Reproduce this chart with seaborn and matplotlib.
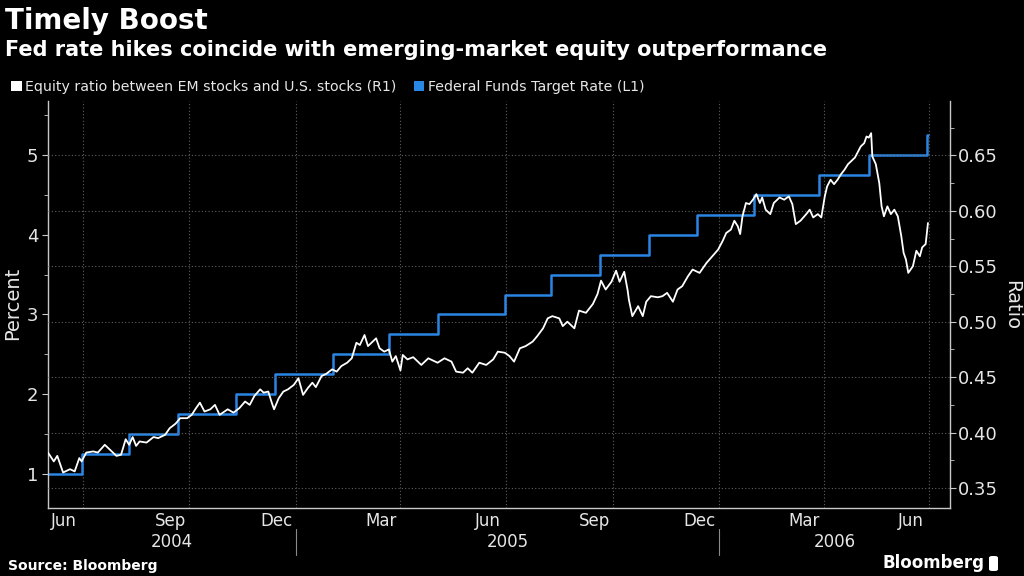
import pandas as pd
import matplotlib
matplotlib.use("Agg")
import matplotlib.pyplot as plt
import matplotlib.dates as mdates
from matplotlib.patches import Patch, FancyBboxPatch
from matplotlib.ticker import MultipleLocator, NullFormatter, FormatStrFormatter
import seaborn as sns

# EM / U.S. equity ratio (right axis)
ratio_dates = [
    "2004-06-01", "2004-06-06", "2004-06-09", "2004-06-14", "2004-06-20", "2004-06-24",
    "2004-06-28", "2004-06-30", "2004-07-04", "2004-07-10", "2004-07-14", "2004-07-20",
    "2004-07-24", "2004-07-30", "2004-08-03", "2004-08-07", "2004-08-10", "2004-08-13",
    "2004-08-16", "2004-08-19", "2004-08-25", "2004-08-31", "2004-09-04", "2004-09-10",
    "2004-09-14", "2004-09-19", "2004-09-23", "2004-09-29", "2004-10-03", "2004-10-06",
    "2004-10-10", "2004-10-14", "2004-10-19", "2004-10-23", "2004-10-27", "2004-11-03",
    "2004-11-08", "2004-11-13", "2004-11-18", "2004-11-22", "2004-11-26", "2004-12-01",
    "2004-12-04", "2004-12-08", "2004-12-11", "2004-12-13", "2004-12-17", "2004-12-21",
    "2004-12-25", "2004-12-30", "2005-01-03", "2005-01-07", "2005-01-11", "2005-01-15",
    "2005-01-18", "2005-01-23", "2005-01-27", "2005-02-01", "2005-02-05", "2005-02-09",
    "2005-02-14", "2005-02-18", "2005-02-22", "2005-02-25", "2005-03-01", "2005-03-04",
    "2005-03-08", "2005-03-11", "2005-03-14", "2005-03-18", "2005-03-22", "2005-03-25",
    "2005-03-28", "2005-04-01", "2005-04-03", "2005-04-07", "2005-04-12", "2005-04-16",
    "2005-04-19", "2005-04-25", "2005-05-03", "2005-05-09", "2005-05-15", "2005-05-19",
    "2005-05-25", "2005-05-29", "2005-06-02", "2005-06-08", "2005-06-14", "2005-06-20",
    "2005-06-24", "2005-06-30", "2005-07-04", "2005-07-08", "2005-07-13", "2005-07-18",
    "2005-07-24", "2005-07-28", "2005-08-02", "2005-08-06", "2005-08-10", "2005-08-16",
    "2005-08-19", "2005-08-23", "2005-08-29", "2005-09-02", "2005-09-08", "2005-09-14",
    "2005-09-18", "2005-09-21", "2005-09-25", "2005-09-30", "2005-10-04", "2005-10-07",
    "2005-10-11", "2005-10-14", "2005-10-15", "2005-10-18", "2005-10-23", "2005-10-27",
    "2005-10-30", "2005-11-03", "2005-11-09", "2005-11-13", "2005-11-17", "2005-11-22",
    "2005-11-26", "2005-11-30", "2005-12-05", "2005-12-09", "2005-12-15", "2005-12-21",
    "2005-12-26", "2005-12-31", "2006-01-04", "2006-01-07", "2006-01-11", "2006-01-14",
    "2006-01-17", "2006-01-19", "2006-01-21", "2006-01-24", "2006-01-27", "2006-01-30",
    "2006-02-02", "2006-02-05", "2006-02-07", "2006-02-10", "2006-02-14", "2006-02-17",
    "2006-02-22", "2006-02-26", "2006-03-02", "2006-03-05", "2006-03-08", "2006-03-12",
    "2006-03-17", "2006-03-20", "2006-03-23", "2006-03-27", "2006-03-30", "2006-04-02",
    "2006-04-04", "2006-04-07", "2006-04-10", "2006-04-13", "2006-04-16", "2006-04-19",
    "2006-04-22", "2006-04-25", "2006-04-28", "2006-05-01", "2006-05-03", "2006-05-06",
    "2006-05-08", "2006-05-10", "2006-05-12", "2006-05-13", "2006-05-16", "2006-05-19",
    "2006-05-21", "2006-05-23", "2006-05-26", "2006-05-29", "2006-06-01", "2006-06-04",
    "2006-06-07", "2006-06-09", "2006-06-11", "2006-06-13", "2006-06-17", "2006-06-20",
    "2006-06-23", "2006-06-25", "2006-06-28", "2006-06-30",
]
ratio_values = [
    0.382, 0.374, 0.379, 0.364, 0.367, 0.365,
    0.377, 0.374, 0.382, 0.383, 0.382, 0.389,
    0.385, 0.379, 0.380, 0.394, 0.389, 0.396,
    0.388, 0.392, 0.391, 0.396, 0.395, 0.398,
    0.404, 0.408, 0.413, 0.413, 0.416, 0.421,
    0.427, 0.419, 0.421, 0.425, 0.416, 0.421,
    0.418, 0.422, 0.428, 0.425, 0.433, 0.439,
    0.436, 0.437, 0.427, 0.421, 0.431, 0.437,
    0.439, 0.443, 0.449, 0.434, 0.440, 0.445,
    0.441, 0.451, 0.453, 0.457, 0.455, 0.460,
    0.463, 0.467, 0.481, 0.479, 0.488, 0.478,
    0.482, 0.485, 0.476, 0.473, 0.475, 0.464,
    0.469, 0.456, 0.470, 0.466, 0.468, 0.464,
    0.461, 0.467, 0.463, 0.467, 0.464, 0.455,
    0.454, 0.458, 0.454, 0.463, 0.461, 0.466,
    0.473, 0.472, 0.469, 0.464, 0.476, 0.478,
    0.482, 0.487, 0.494, 0.503, 0.505, 0.503,
    0.496, 0.500, 0.494, 0.510, 0.508, 0.516,
    0.525, 0.537, 0.529, 0.536, 0.546, 0.536,
    0.545, 0.528, 0.520, 0.505, 0.514, 0.505,
    0.518, 0.523, 0.522, 0.523, 0.526, 0.518,
    0.529, 0.532, 0.541, 0.547, 0.544, 0.553,
    0.559, 0.565, 0.573, 0.580, 0.583, 0.591,
    0.586, 0.579, 0.595, 0.607, 0.606, 0.610,
    0.615, 0.607, 0.612, 0.601, 0.597, 0.607,
    0.612, 0.610, 0.613, 0.606, 0.588, 0.591,
    0.597, 0.601, 0.594, 0.597, 0.594, 0.613,
    0.622, 0.628, 0.624, 0.628, 0.633, 0.637,
    0.642, 0.645, 0.648, 0.654, 0.658, 0.661,
    0.667, 0.666, 0.670, 0.649, 0.642, 0.625,
    0.604, 0.595, 0.604, 0.597, 0.601, 0.595,
    0.577, 0.562, 0.556, 0.544, 0.550, 0.564,
    0.559, 0.567, 0.570, 0.589,
]

# Federal funds target rate (left axis), changes at FOMC meetings
fed_dates = [
    "2004-06-01", "2004-06-30", "2004-08-10", "2004-09-21", "2004-11-10", "2004-12-14",
    "2005-02-02", "2005-03-22", "2005-05-03", "2005-06-30", "2005-08-09", "2005-09-20",
    "2005-11-01", "2005-12-13", "2006-01-31", "2006-03-28", "2006-05-10", "2006-06-29",
    "2006-06-30",
]
fed_rates = [
    1.00, 1.25, 1.50, 1.75, 2.00, 2.25,
    2.50, 2.75, 3.00, 3.25, 3.50, 3.75,
    4.00, 4.25, 4.50, 4.75, 5.00, 5.25,
    5.25,
]

left_ticks = [1, 2, 3, 4, 5]
right_ticks = [0.35, 0.40, 0.45, 0.50, 0.55, 0.60, 0.65]
years = [2004, 2005, 2006]

BLUE = "#2a86e4"
SPINE = "#c8c8c8"
TXT = "#e6e6e6"

ratio = pd.DataFrame({"date": pd.to_datetime(ratio_dates), "ratio": ratio_values})
fed = pd.DataFrame({"date": pd.to_datetime(fed_dates), "rate": fed_rates})

sns.set_style("dark", {"axes.facecolor": "black", "figure.facecolor": "black"})
plt.rcParams["font.family"] = ["DejaVu Sans"]
plt.rcParams["text.color"] = TXT

fig = plt.figure(figsize=(10.24, 5.76), dpi=100)
ax = fig.add_axes([48 / 1024, 1 - 508 / 576, 902 / 1024, 407 / 576])
ax2 = ax.twinx()

x0 = pd.Timestamp("2004-06-01")
x1 = pd.Timestamp("2006-07-19")

# quarter grid lines (vertical, dotted)
for q in pd.date_range("2004-07-01", "2006-07-01", freq="QS-JAN"):
    ax.axvline(q, color="#606060", lw=0.8, ls=(0, (1, 2)), zorder=0.5)

sns.lineplot(data=fed, x="date", y="rate", ax=ax, color=BLUE, lw=1.8,
             drawstyle="steps-post", estimator=None)
sns.lineplot(data=ratio, x="date", y="ratio", ax=ax2, color="white", lw=1.3,
             estimator=None)

ax.set_xlim(x0, x1)
ax.set_ylim(0.575, 5.675)
ax2.set_ylim(0.332, 0.699)

# left axis
ax.set_yticks(left_ticks)
ax.yaxis.set_minor_locator(MultipleLocator(0.5))
ax.tick_params(axis="y", which="major", length=4, color=SPINE, labelcolor=TXT,
               labelsize=13, pad=3, direction="out")
ax.tick_params(axis="y", which="minor", length=3, color=SPINE, direction="out")
ax.set_ylabel("")
ax.grid(False)

# right axis
ax2.set_yticks(right_ticks)
ax2.yaxis.set_major_formatter(FormatStrFormatter("%.2f"))
ax2.yaxis.set_minor_locator(MultipleLocator(0.025))
ax2.tick_params(axis="y", which="major", length=4, color=SPINE, labelcolor=TXT,
                labelsize=13, pad=2, direction="out")
ax2.tick_params(axis="y", which="minor", length=3, color=SPINE, direction="out")
ax2.set_ylabel("")
ax2.grid(False)
ax2.yaxis.grid(True, color="#606060", lw=0.8, ls=(0, (1, 2)))

# x axis: month ticks, labels at mid-month of Mar/Jun/Sep/Dec
ax.xaxis.set_major_locator(mdates.MonthLocator())
ax.xaxis.set_major_formatter(NullFormatter())
ax.xaxis.set_minor_locator(mdates.MonthLocator(bymonth=[3, 6, 9, 12], bymonthday=15))
ax.xaxis.set_minor_formatter(mdates.DateFormatter("%b"))
ax.tick_params(axis="x", which="major", length=4, color=SPINE, direction="out")
ax.tick_params(axis="x", which="minor", length=0, labelcolor=TXT, labelsize=12, pad=3)
ax.set_xlabel("")

for a in (ax, ax2):
    for s in a.spines.values():
        s.set_visible(False)
ax.spines["left"].set_visible(True)
ax.spines["bottom"].set_visible(True)
ax2.spines["right"].set_visible(True)
for s in (ax.spines["left"], ax.spines["bottom"], ax2.spines["right"]):
    s.set_color(SPINE)
    s.set_linewidth(1.0)

# year labels centred on the visible part of each year, with separators
trans = ax.get_xaxis_transform()
for yr in years:
    start = max(pd.Timestamp(f"{yr}-01-01"), x0)
    end = min(pd.Timestamp(f"{yr + 1}-01-01"), x1)
    mid = start + (end - start) / 2
    ax.text(mid, -0.083, str(yr), transform=trans, ha="center", va="center",
            fontsize=12, color=TXT)
    if yr > years[0]:
        ax.plot([start, start], [-0.052, -0.115], transform=trans, color="#8a8a8a",
                lw=0.8, clip_on=False)

# titles and legend
fig.text(5 / 1024, 1 - 21 / 576, "Timely Boost", fontsize=20, fontweight="bold",
         color="white", va="center", ha="left")
fig.text(5 / 1024, 1 - 50 / 576,
         "Fed rate hikes coincide with emerging-market equity outperformance",
         fontsize=15, fontweight="bold", color="white", va="center", ha="left")

handles = [Patch(facecolor="white", edgecolor="none"), Patch(facecolor=BLUE, edgecolor="none")]
labels = ["Equity ratio between EM stocks and U.S. stocks (R1)", "Federal Funds Target Rate (L1)"]
fig.legend(handles, labels, loc="center left", bbox_to_anchor=(4 / 1024, 1 - 87 / 576),
           ncol=2, frameon=False, fontsize=10.2, labelcolor=TXT, handlelength=0.75,
           handleheight=0.75, handletextpad=0.25, columnspacing=1.2, borderpad=0)

fig.text(13 / 1024, 1 - 303 / 576, "Percent", rotation=90, fontsize=14, color=TXT,
         ha="center", va="center")
fig.text(1012 / 1024, 1 - 305 / 576, "Ratio", rotation=270, fontsize=14, color=TXT,
         ha="center", va="center")

fig.text(8 / 1024, 1 - 566 / 576, "Source: Bloomberg", fontsize=10, fontweight="bold",
         color="white", va="center", ha="left")
fig.text(985 / 1024, 1 - 563 / 576, "Bloomberg", fontsize=12, fontweight="bold",
         color="white", va="center", ha="right")
# small logo box next to the wordmark
fig.patches.append(FancyBboxPatch((989 / 1024, 1 - 571 / 576), 9 / 1024, 15 / 576,
                                  boxstyle="round,pad=0,rounding_size=0.003",
                                  transform=fig.transFigure, facecolor="white",
                                  edgecolor="none"))

fig.savefig("out.png", dpi=100, facecolor="black")
